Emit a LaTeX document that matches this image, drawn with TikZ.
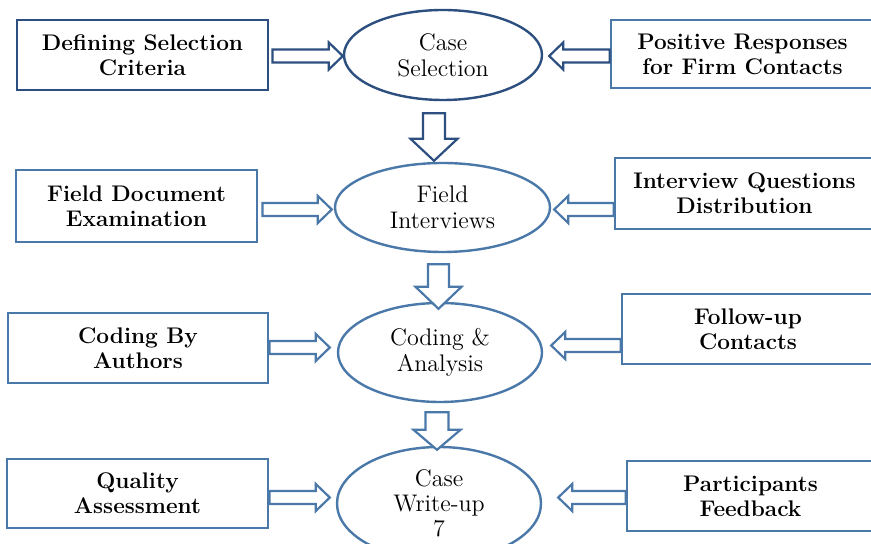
\documentclass[tikz,border=0pt]{standalone}
\usepackage{tikz}
\usetikzlibrary{positioning,calc,shapes.geometric}

\definecolor{navy}{RGB}{44,79,127}
\definecolor{steel}{RGB}{74,120,168}

% block arrow: [colour]{from}{to}{shaft half width}{head half width}{head length}
\newcommand{\fatarrow}[6][navy]{%
  \coordinate (fa) at (#2);
  \coordinate (fb) at (#3);
  \coordinate (fh) at ($(fb)!#6!(fa)$);
  \draw[draw=#1,line width=1.1pt,fill=white,line join=miter]
    ($(fa)!#4!90:(fb)$) -- ($(fh)!#4!-90:(fa)$) -- ($(fh)!#5!-90:(fa)$) -- (fb)
    -- ($(fh)!#5!90:(fa)$) -- ($(fh)!#4!90:(fa)$) -- ($(fa)!#4!-90:(fb)$) -- cycle;
}

\begin{document}
\begin{tikzpicture}[x=0.5pt,y=-0.5pt,
	box/.style={rectangle,draw=steel,line width=1.4pt,align=center,
		font=\fontsize{11.3}{12.5}\selectfont\bfseries},
	oval/.style={ellipse,draw=steel,line width=1.2pt,align=center,inner sep=0pt,
		font=\fontsize{12}{13}\selectfont}]

		\useasboundingbox (0,0) rectangle (871,544);
		\clip (0,0) rectangle (871,544);

		%left boxes
		\node[box,draw=navy,minimum width=125.5pt,minimum height=35pt] (n1) at (142.5,55) {Defining Selection\\Criteria};
		\node[box,minimum width=120.5pt,minimum height=36pt] (n3) at (136.5,206) {Field Document\\Examination};
		\node[box,minimum width=130pt,minimum height=35pt] (n5) at (138,348) {Coding By\\Authors};
		\node[box,minimum width=130.5pt,minimum height=34.5pt] (n7) at (137.5,493.5) {Quality\\Assessment};

		%right boxes
		\node[box,minimum width=131.5pt,minimum height=34pt] (n2) at (742.5,54) {Positive Responses\\for Firm Contacts};
		\node[box,minimum width=129.5pt,minimum height=35.5pt] (n4) at (744.5,193.5) {Interview Questions\\Distribution};
		\node[box,minimum width=126pt,minimum height=35pt] (n6) at (748,329) {Follow-up\\Contacts};
		\node[box,minimum width=123.5pt,minimum height=35pt] (n8) at (750.5,496) {Participants\\Feedback};

		%middle ovals
		\node[oval,draw=navy,minimum width=99pt,minimum height=45pt] (n9) at (443,55) {Case\\Selection};
		\node[oval,minimum width=107.5pt,minimum height=44.5pt] (n10) at (442.5,207.5) {Field\\Interviews};
		\node[oval,minimum width=102pt,minimum height=49.5pt] (n11) at (440,352.5) {Coding \&\\Analysis};
		\node[oval,minimum width=102pt,minimum height=56.5pt,font=\fontsize{12}{12.5}\selectfont] (n12) at (439,503.5) {Case\\Write-up\\7};

		%side arrows
		\fatarrow{$(n1.east |- n9.west)+(3,1)$}{$(n9.west)+(0,1)$}{3.25pt}{6.75pt}{7pt}
		\fatarrow{$(n2.west |- n9.east)+(0,1)$}{$(n9.east)+(6,1)$}{3.25pt}{6.75pt}{7pt}
		\fatarrow[steel]{$(n3.east |- n10.west)+(4,2)$}{$(n10.west)+(-2,2)$}{3.25pt}{6.75pt}{7pt}
		\fatarrow[steel]{$(n4.west |- n10.east)+(0,2)$}{$(n10.east)+(3,2)$}{3.25pt}{6.75pt}{7pt}
		\fatarrow[steel]{$(n5.east |- n11.west)+(0,-5)$}{$(n11.west)+(-7,-5)$}{3.25pt}{6.75pt}{7pt}
		\fatarrow[steel]{$(n6.west |- n11.east)+(0,-7)$}{$(n11.east)+(8,-7)$}{3.25pt}{6.75pt}{7pt}
		\fatarrow[steel]{$(n7.east |- n12.west)+(0,-6)$}{$(n12.west)+(-6,-6)$}{3.25pt}{6.75pt}{7pt}
		\fatarrow[steel]{$(n8.west |- n12.east)+(0,-6)$}{$(n12.east)+(16,-6)$}{3.25pt}{6.75pt}{7pt}

		%down arrows
		\fatarrow{$(n9.south)+(-9,12)$}{$(n9.south |- n10.north)+(-9,-1)$}{5.5pt}{11.75pt}{11pt}
		\fatarrow[steel]{$(n10.south)+(-4,11)$}{$(n10.south |- n11.north)+(-4,7)$}{5.25pt}{11.5pt}{11pt}
		\fatarrow[steel]{$(n11.south)+(-3,9)$}{$(n11.south |- n12.north)+(-3,4)$}{5.75pt}{11.75pt}{10pt}
\end{tikzpicture}
\end{document}
